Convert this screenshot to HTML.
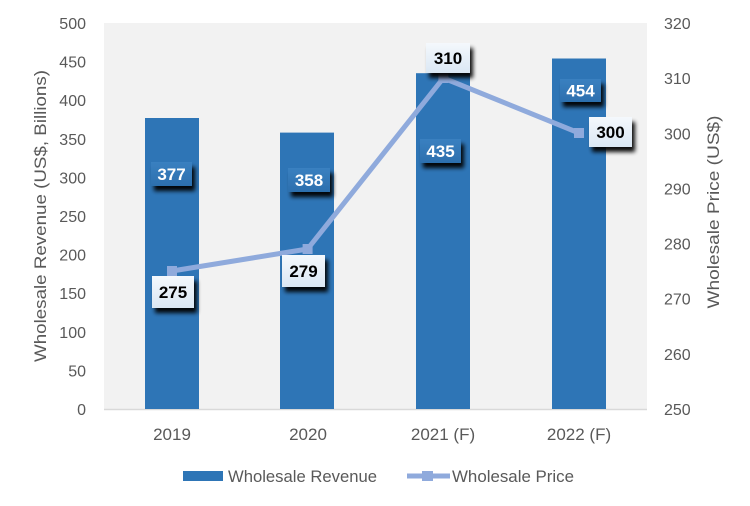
<!DOCTYPE html>
<html><head><meta charset="utf-8">
<style>
html,body{margin:0;padding:0;background:#fff;}
svg{display:block;}
text{font-family:"Liberation Sans",sans-serif;}
</style></head>
<body>
<svg width="750" height="506" viewBox="0 0 750 506" xmlns="http://www.w3.org/2000/svg">
<defs>
<filter id="sh" x="-30%" y="-30%" width="170%" height="190%">
<feGaussianBlur in="SourceAlpha" stdDeviation="2"/>
<feOffset dx="3" dy="5" result="o"/>
<feComponentTransfer><feFuncA type="linear" slope="0.95"/></feComponentTransfer>
<feMerge><feMergeNode/><feMergeNode in="SourceGraphic"/></feMerge>
</filter>
<linearGradient id="lg" x1="0" y1="0" x2="0" y2="1">
<stop offset="0" stop-color="#f4f8fc"/><stop offset="1" stop-color="#dae7f4"/>
</linearGradient>
<linearGradient id="bg" x1="0" y1="0" x2="0" y2="1">
<stop offset="0" stop-color="#3a80c0"/><stop offset="1" stop-color="#2c6fae"/>
</linearGradient>
</defs>
<rect x="104" y="23" width="543" height="386" fill="#f2f2f2"/>
<line x1="104" y1="409.5" x2="647" y2="409.5" stroke="#d9d9d9" stroke-width="1.5"/>
<g fill="#2e75b6">
<rect x="145" y="118" width="54" height="291"/>
<rect x="280" y="132.6" width="54" height="276.4"/>
<rect x="416" y="73.2" width="54" height="335.8"/>
<rect x="552" y="58.5" width="54" height="350.5"/>
</g>
<g font-size="16" fill="#595959" text-anchor="end">
<text x="86" y="29">500</text>
<text x="86" y="67.6">450</text>
<text x="86" y="106.2">400</text>
<text x="86" y="144.8">350</text>
<text x="86" y="183.4">300</text>
<text x="86" y="222">250</text>
<text x="86" y="260.6">200</text>
<text x="86" y="299.2">150</text>
<text x="86" y="337.8">100</text>
<text x="86" y="376.4">50</text>
<text x="86" y="415">0</text>
</g>
<g font-size="16" fill="#595959" text-anchor="start">
<text x="664" y="29">320</text>
<text x="664" y="84.1">310</text>
<text x="664" y="139.3">300</text>
<text x="664" y="194.4">290</text>
<text x="664" y="249.6">280</text>
<text x="664" y="304.7">270</text>
<text x="664" y="359.9">260</text>
<text x="664" y="415">250</text>
</g>
<text transform="translate(46,216) rotate(-90)" font-size="17" fill="#595959" text-anchor="middle" textLength="292" lengthAdjust="spacingAndGlyphs">Wholesale Revenue (US$, Billions)</text>
<text transform="translate(719,212) rotate(-90)" font-size="17" fill="#595959" text-anchor="middle" textLength="193" lengthAdjust="spacingAndGlyphs">Wholesale Price (US$)</text>
<g font-size="17" fill="#595959" text-anchor="middle">
<text x="172" y="440">2019</text>
<text x="308" y="440">2020</text>
<text x="443" y="440">2021 (F)</text>
<text x="579" y="440">2022 (F)</text>
</g>
<polyline points="172,271 307.6,249 443.4,78 579,133" fill="none" stroke="#8faadc" stroke-width="5" stroke-linejoin="round"/>
<g fill="#8faadc">
<rect x="167" y="266" width="10" height="10"/>
<rect x="302.6" y="244" width="10" height="10"/>
<rect x="438.4" y="73" width="10" height="10"/>
<rect x="574" y="128" width="10" height="10"/>
</g>
<g filter="url(#sh)">
<rect x="151" y="162" width="41" height="24" fill="url(#bg)"/>
<rect x="288" y="168" width="42" height="24" fill="url(#bg)"/>
<rect x="420" y="139" width="41" height="24" fill="url(#bg)"/>
<rect x="560" y="79" width="41" height="23" fill="url(#bg)"/>
</g>
<g font-size="17" font-weight="bold" fill="#fff" text-anchor="middle">
<text x="171.5" y="180">377</text>
<text x="309" y="186">358</text>
<text x="440.5" y="157">435</text>
<text x="580.5" y="96.5">454</text>
</g>
<g filter="url(#sh)">
<rect x="152" y="276" width="42" height="32" fill="url(#lg)"/>
<rect x="282" y="255" width="43" height="32" fill="url(#lg)"/>
<rect x="426" y="43" width="44" height="30" fill="url(#lg)"/>
<rect x="589" y="117" width="43" height="30" fill="url(#lg)"/>
</g>
<g font-size="17" font-weight="bold" fill="#000" text-anchor="middle">
<text x="173" y="298">275</text>
<text x="303.5" y="277">279</text>
<text x="448" y="64">310</text>
<text x="610.5" y="138">300</text>
</g>
<rect x="183" y="471" width="40" height="10" fill="#2e75b6"/>
<text x="228" y="482" font-size="17" fill="#595959" textLength="149" lengthAdjust="spacingAndGlyphs">Wholesale Revenue</text>
<line x1="407" y1="476" x2="450" y2="476" stroke="#8faadc" stroke-width="5"/>
<rect x="422" y="471" width="11" height="10" fill="#8faadc"/>
<text x="452" y="482" font-size="17" fill="#595959" textLength="122" lengthAdjust="spacingAndGlyphs">Wholesale Price</text>
</svg>
</body></html>
